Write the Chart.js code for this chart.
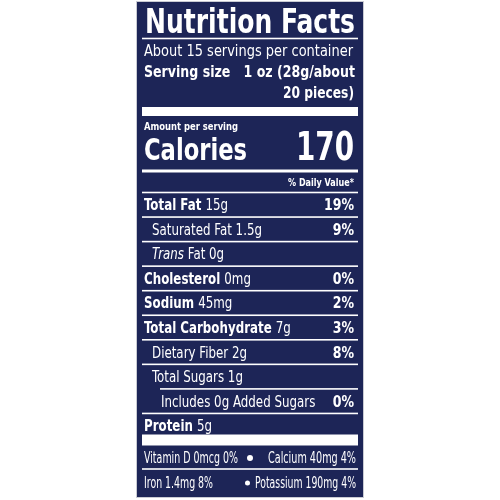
<!DOCTYPE html>
<html>
<head>
<meta charset="utf-8">
<script src="https://cdn.jsdelivr.net/npm/chart.js@4/dist/chart.umd.min.js"></script>
<style>
  html, body { margin: 0; padding: 0; background: #fff; }
  canvas { display: block; }
</style>
</head>
<body>
<canvas id="label" width="500" height="500"></canvas>
<script>
// label data
const title = 'Nutrition Facts';
const servingsText = 'About 15 servings per container';
const servingSize = ['1 oz (28g/about', '20 pieces)'];
const calories = 170;

const nutrients = ['Total Fat', 'Saturated Fat', 'Trans Fat', 'Cholesterol', 'Sodium',
  'Total Carbohydrate', 'Dietary Fiber', 'Total Sugars', 'Includes 0g Added Sugars', 'Protein'];
const amounts = ['15g', '1.5g', '0g', '0mg', '45mg', '7g', '2g', '1g', '', '5g'];
const dailyValues = [19, 9, null, 0, 2, 3, 8, null, 0, null];

const minerals = ['Vitamin D', 'Calcium', 'Iron', 'Potassium'];
const mineralAmounts = ['0mcg', '40mg', '1.4mg', '190mg'];
const mineralDV = [0, 4, 8, 4];

// layout / style
const NAVY = '#1d2557';
const FONT = '"Liberation Sans Narrow", "DejaVu Sans Condensed", "Liberation Sans", sans-serif';
const indent = [0, 1, 1, 0, 0, 0, 1, 1, 2, 0];
const L = 144, R = 354;

// draws a row of [text, font] pieces, squeezed horizontally by sx
function run(c, parts, x, y, align, sx) {
    let w = 0;
    parts.forEach(p => { c.font = p[1]; w += c.measureText(p[0]).width; });
    const x0 = align === 'right' ? x - w * sx : x;
    c.save();
    c.translate(x0, y);
    c.scale(sx, 1);
    let cx = 0;
    parts.forEach(p => { c.font = p[1]; c.fillText(p[0], cx, 0); cx += c.measureText(p[0]).width; });
    c.restore();
}
// same, squeezed to a given width
function fit(c, parts, x, y, width, align) {
    let w = 0;
    parts.forEach(p => { c.font = p[1]; w += c.measureText(p[0]).width; });
    run(c, parts, align === 'right' ? x : x, y, align || 'left', width / w);
}
function rule(c, x1, x2, y, h) {
    c.fillRect(x1, y - h / 2, x2 - x1, h);
}

const labelPlugin = {
    id: 'label',
    beforeDraw(chart) {
        const c = chart.ctx;
        c.save();
        c.fillStyle = '#fff';
        c.fillRect(0, 0, chart.width, chart.height);
        c.fillStyle = NAVY;
        c.fillRect(137, 2, 226, 495);
        c.strokeStyle = '#c9cbd3';
        c.lineWidth = 1;
        c.strokeRect(136.5, 1.5, 227, 496);
        c.restore();
    },
    afterDatasetsDraw(chart) {
        const c = chart.ctx;
        const y = chart.scales.y;
        const area = chart.chartArea;
        const b = 'bold ', sx = 0.85;
        c.save();
        c.fillStyle = '#fff';
        c.textBaseline = 'alphabetic';
        c.textAlign = 'left';

        // header
        fit(c, [[title, b + '33px ' + FONT]], 145, 33, 210);
        rule(c, 142, 358, 38.5, 1.6);
        fit(c, [[servingsText, '16px ' + FONT]], 144, 56, 209);
        fit(c, [['Serving size   ' + servingSize[0], b + '16px ' + FONT]], 144, 77, 211);
        fit(c, [[servingSize[1], b + '16px ' + FONT]], R, 98, 71, 'right');
        rule(c, 142, 358, 111.5, 9);
        fit(c, [['Amount per serving', b + '11px ' + FONT]], 144, 130, 94);
        fit(c, [['Calories', b + '31px ' + FONT]], 144, 160, 103);
        fit(c, [[String(calories), b + '39px ' + FONT]], R, 160, 58, 'right');
        rule(c, 142, 358, 171, 3);
        fit(c, [['% Daily Value*', b + '11px ' + FONT]], R, 186, 66, 'right');
        rule(c, 142, 358, area.top, 1.6);

        // nutrient rows, placed on the category scale
        nutrients.forEach((name, i) => {
            const cy = y.getPixelForValue(i);
            const x = L + [0, 8, 17][indent[i]];
            const base = cy + 5.5;
            const nf = (indent[i] === 0 ? b : '') + '15.5px ' + FONT;
            const af = '15.5px ' + FONT;
            let parts;
            if (name === 'Trans Fat') parts = [['Trans', 'italic ' + af], [' Fat ' + amounts[i], af]];
            else parts = [[name + ' ', nf], [amounts[i], af]];
            run(c, parts, x, base, 'left', sx);
            if (dailyValues[i] !== null) run(c, [[dailyValues[i] + '%', b + '15.5px ' + FONT]], R, base, 'right', 0.9);
            if (i < nutrients.length - 1) {
                const by = (cy + y.getPixelForValue(i + 1)) / 2;
                rule(c, name === 'Total Sugars' ? 160 : 142, 358, by, 1.6);
            }
        });
        rule(c, 142, 358, area.bottom + 2, 11);

        // vitamins and minerals
        const mf = '15px ' + FONT;
        const r1 = area.bottom + 25, r2 = area.bottom + 50;
        const m = k => minerals[k] + ' ' + mineralAmounts[k] + ' ' + mineralDV[k] + '%';
        fit(c, [[m(0), mf]], L, r1, 94);
        fit(c, [[m(1), mf]], R + 2, r1, 88, 'right');
        rule(c, 142, 358, area.bottom + 31, 1.6);
        fit(c, [[m(2), mf]], L, r2, 69);
        fit(c, [[m(3), mf]], R + 2, r2, 101, 'right');
        c.beginPath();
        c.arc(250, r1 - 5, 3, 0, Math.PI * 2);
        c.arc(247.5, r2 - 5, 2.5, 0, Math.PI * 2);
        c.fill();
        c.restore();
    }
};

const ctx = document.getElementById('label').getContext('2d');
const myChart = new Chart(ctx, {
    type: 'bar',
    data: {
        labels: nutrients,
        datasets: [{
            label: '% Daily Value',
            data: dailyValues,
            backgroundColor: 'rgba(0,0,0,0)',
        }]
    },
    options: {
        indexAxis: 'y',
        responsive: false,
        animation: false,
        layout: { padding: { left: 137, right: 137, top: 192.5, bottom: 62 } },
        plugins: { legend: { display: false }, tooltip: { enabled: false } },
        scales: {
            x: { display: false, min: 0, max: 100 },
            y: { display: false }
        }
    },
    plugins: [labelPlugin]
});
</script>
</body>
</html>
